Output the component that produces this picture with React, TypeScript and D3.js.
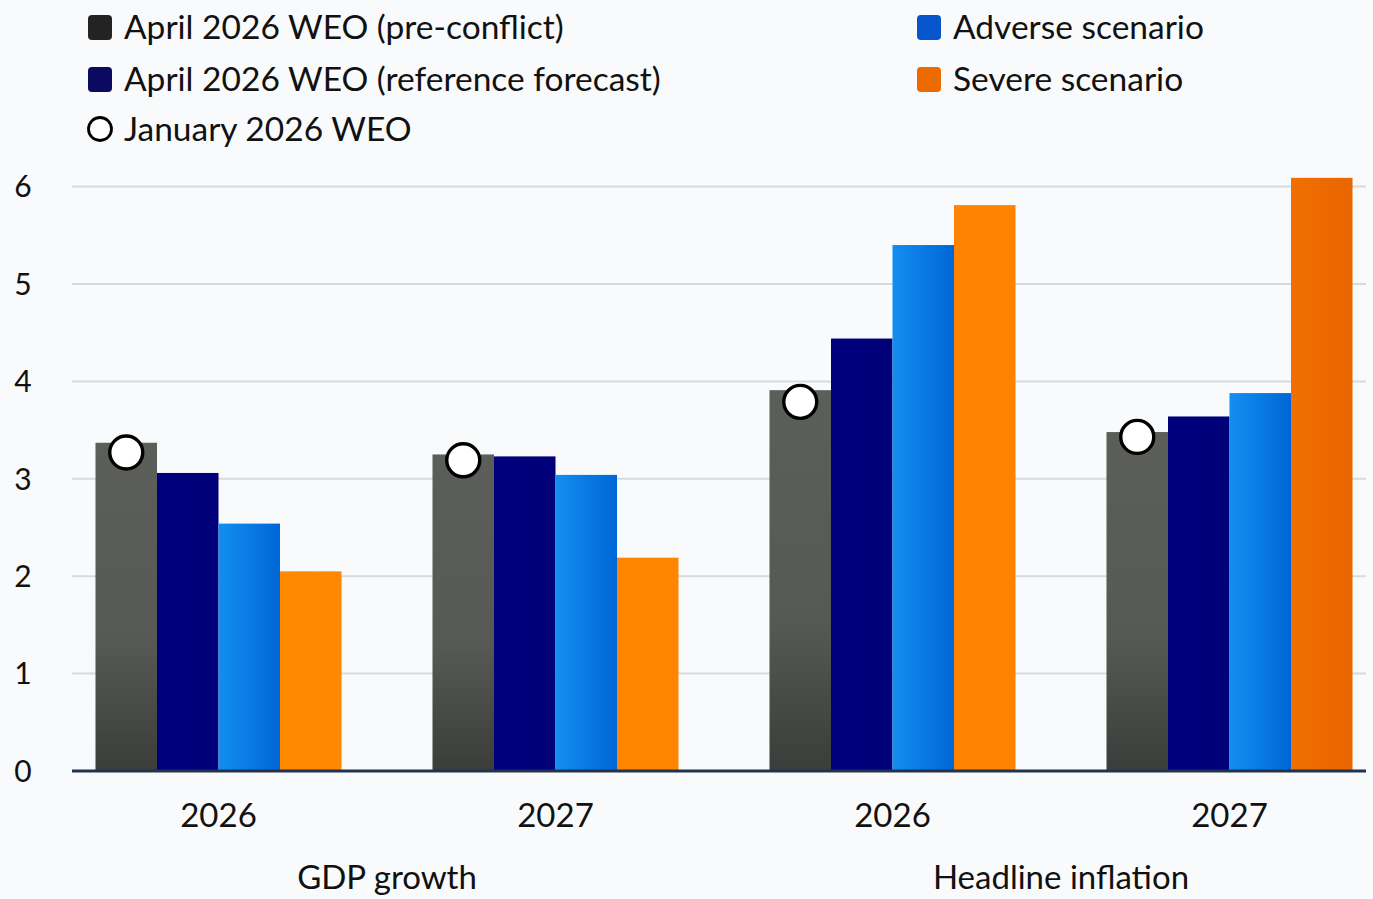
import React from "react";
import * as d3 from "d3";

const groups = ["GDP growth", "Headline inflation"];
const years = ["2026", "2027"];
const categories = ["GDP growth|2026", "GDP growth|2027", "Headline inflation|2026", "Headline inflation|2027"];
const seriesNames = [
  "April 2026 WEO (pre-conflict)",
  "April 2026 WEO (reference forecast)",
  "Adverse scenario",
  "Severe scenario",
];
const preConflict = [3.37, 3.25, 3.91, 3.48];
const referenceForecast = [3.06, 3.23, 4.44, 3.64];
const adverse = [2.54, 3.04, 5.4, 3.88];
const severe = [2.05, 2.19, 5.81, 6.09];
const january2026 = [3.27, 3.19, 3.79, 3.43];
const yTicks = [0, 1, 2, 3, 4, 5, 6];

const seriesValues = [preConflict, referenceForecast, adverse, severe];
const fills = ["url(#gGray)", "url(#gNavy)", "url(#gBlue)", "url(#gOrange)"];
const legendColors = ["#232323", "#0a0a5e", "#0655cc", "#ec6a00"];

const W = 1373;
const H = 899;
const FONT = "Lato, 'Noto Sans', sans-serif";

export default function App() {
  const x0 = d3.scaleBand<string>().domain(categories).range([50, 1398]).paddingInner(0.27).paddingOuter(0.135);
  const x1 = d3.scaleBand<string>().domain(seriesNames).range([0, x0.bandwidth()]).padding(0);
  const y = d3.scaleLinear().domain([0, 6]).range([771, 186.6]);
  const plotLeft = 72;
  const plotRight = 1366;

  const legendItems = [
    { label: seriesNames[0], x: 88, y: 27, color: legendColors[0], kind: "sq" },
    { label: seriesNames[1], x: 88, y: 79, color: legendColors[1], kind: "sq" },
    { label: "January 2026 WEO", x: 88, y: 129, color: "#000", kind: "circle" },
    { label: seriesNames[2], x: 917, y: 27, color: legendColors[2], kind: "sq" },
    { label: seriesNames[3], x: 917, y: 79, color: legendColors[3], kind: "sq" },
  ];

  return (
    <svg
      width={W}
      height={H}
      style={{ position: "absolute", left: 0, top: 0, background: "#f9fafc" }}
      fontFamily={FONT}
    >
      <defs>
        <linearGradient id="gGray" x1="0" y1="0" x2="0" y2="1">
          <stop offset="0" stopColor="#5b5e59" />
          <stop offset="0.6" stopColor="#575955" />
          <stop offset="1" stopColor="#3b3d3a" />
        </linearGradient>
        <linearGradient id="gNavy" x1="0" y1="0" x2="1" y2="0">
          <stop offset="0" stopColor="#00007e" />
          <stop offset="1" stopColor="#000078" />
        </linearGradient>
        <linearGradient id="gBlue" x1="0" y1="0" x2="1" y2="0">
          <stop offset="0" stopColor="#138ff0" />
          <stop offset="1" stopColor="#0066d6" />
        </linearGradient>
        <linearGradient id="gOrange" gradientUnits="userSpaceOnUse" x1="0" y1="0" x2={W} y2="0">
          <stop offset="0" stopColor="#ff8c00" />
          <stop offset="0.73" stopColor="#ff8200" />
          <stop offset="0.93" stopColor="#f37200" />
          <stop offset="0.99" stopColor="#e86400" />
        </linearGradient>
      </defs>
      <rect x={0} y={0} width={W} height={H} fill="#f9fafc" />

      {/* legend */}
      {legendItems.map((d) => (
        <g key={d.label}>
          {d.kind === "sq" ? (
            <rect x={d.x} y={d.y - 12} width={24} height={25} rx={4} fill={d.color} />
          ) : (
            <circle cx={d.x + 12} cy={d.y} r={11.5} fill="#fff" stroke="#000" strokeWidth={2.8} />
          )}
          <text x={d.x + 36} y={d.y} dy="0.36em" fontSize={33.5} fill="#111">
            {d.label}
          </text>
        </g>
      ))}

      {/* gridlines */}
      {yTicks.filter((t) => t > 0).map((t) => (
        <line key={t} x1={plotLeft} x2={plotRight} y1={y(t)} y2={y(t)} stroke="#d8dadd" strokeWidth={2} />
      ))}
      {yTicks.map((t) => (
        <text key={"yt" + t} x={23} y={y(t)} dy="0.36em" textAnchor="middle" fontSize={30} fill="#111">
          {t}
        </text>
      ))}

      {/* bars */}
      {categories.map((c, ci) => {
        const gx = x0(c) as number;
        return (
          <g key={c}>
            {seriesNames.map((s, si) => (
              <rect
                key={s}
                x={gx + (x1(s) as number)}
                y={y(seriesValues[si][ci])}
                width={x1.bandwidth()}
                height={y(0) - y(seriesValues[si][ci])}
                fill={fills[si]}
              />
            ))}
            <circle
              cx={gx + (x1(seriesNames[0]) as number) + x1.bandwidth() / 2}
              cy={y(january2026[ci])}
              r={16.5}
              fill="#fff"
              stroke="#000"
              strokeWidth={3.4}
            />
            <text
              x={gx + x0.bandwidth() / 2}
              y={815}
              dy="0.36em"
              textAnchor="middle"
              fontSize={33}
              fill="#111"
            >
              {years[ci % 2]}
            </text>
          </g>
        );
      })}

      {/* zero axis */}
      <line x1={plotLeft} x2={plotRight} y1={y(0)} y2={y(0)} stroke="#23324d" strokeWidth={3} />

      {/* group labels */}
      {groups.map((g, gi) => {
        const a = x0(categories[gi * 2]) as number;
        const b = (x0(categories[gi * 2 + 1]) as number) + x0.bandwidth();
        return (
          <text key={g} x={(a + b) / 2} y={877} dy="0.36em" textAnchor="middle" fontSize={33} fill="#111">
            {g}
          </text>
        );
      })}
    </svg>
  );
}
